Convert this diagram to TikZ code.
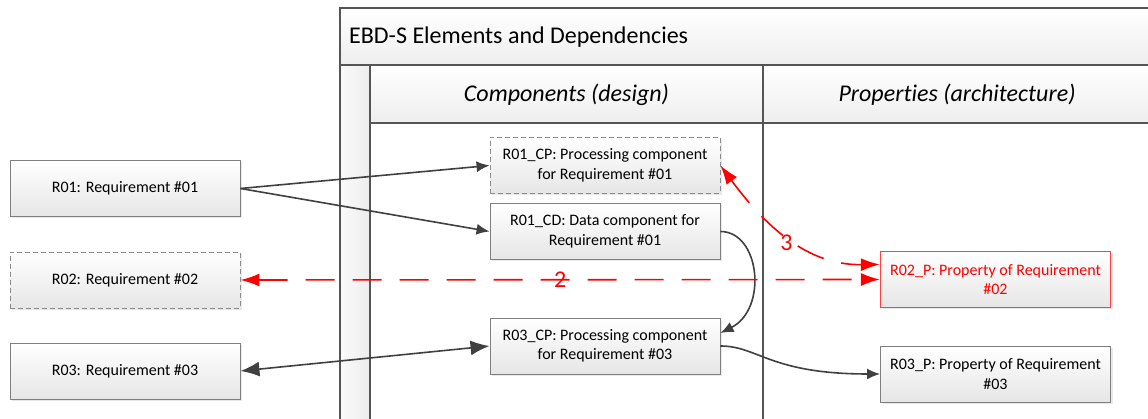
\documentclass[tikz,border=0pt]{standalone}
\usepackage{fontspec}
\setmainfont[Ligatures=NoCommon]{Carlito}
\usetikzlibrary{arrows.meta,shadows}

\definecolor{linegray}{HTML}{404040}
\definecolor{boxline}{HTML}{7F7F7F}
\definecolor{dashline}{HTML}{8C8C8C}
\definecolor{poolline}{HTML}{555555}
\definecolor{fillbottom}{HTML}{E6E6E6}
\definecolor{headbottom}{HTML}{EEEEEE}
\definecolor{redline}{HTML}{FF0000}
\definecolor{redbox}{HTML}{FF4040}

\tikzset{
  elem/.style={draw=boxline, line width=0.9pt, top color=white, bottom color=fillbottom,
    minimum width=230pt, minimum height=56pt, inner sep=0pt, align=center,
    font=\fontsize{16}{19.5}\selectfont,
    drop shadow={shadow xshift=2pt, shadow yshift=-2pt, opacity=0.3, fill=black!30}},
  pending/.style={elem, draw=dashline, dash pattern=on 5pt off 3pt},
  flagged/.style={elem, draw=redbox, line width=1.2pt, text=redline},
  flow/.style={draw=linegray, line width=1.6pt, -{Latex[length=13pt,width=11pt]}},
  bothflow/.style={draw=linegray, line width=1.6pt, {Latex[length=19pt,width=15pt]}-{Latex[length=19pt,width=15pt]}},
  conflict/.style={draw=redline, line width=1.6pt, dash pattern=on 29pt off 18pt,
    {Latex[length=19pt,width=13pt]}-{Latex[length=19pt,width=13pt]}},
  conflictlabel/.style={text=redline, font=\fontsize{24}{28}\selectfont, inner sep=1pt},
  poolrule/.style={draw=poolline, line width=1.5pt},
  heading/.style={font=\fontsize{24}{28}\selectfont, inner sep=0pt},
}

\begin{document}
\begin{tikzpicture}[x=1pt,y=1pt]
\useasboundingbox (0,0) rectangle (1148,419);

% swimlane pool with two lanes
\begin{scope}
  \clip (0,0) rectangle (1148,419);
  \fill[top color=white, bottom color=headbottom] (340,411) rectangle (1160,354);
  \fill[top color=white, bottom color=headbottom] (370,354) rectangle (1160,296);
  \fill[left color=white!98!black, right color=white!93!black] (340,354) rectangle (370,-10);
  \draw[poolrule] (1160,411) -- (340,411) -- (340,-10);
  \draw[poolrule] (340,354) -- (1160,354);
  \draw[poolrule] (370,354) -- (370,-10);
  \draw[poolrule] (370,296) -- (1160,296);
  \draw[draw=poolline, line width=1.2pt] (763,354) -- (763,-10);
  \draw[poolrule] (1151,411) -- (1151,-10);
\end{scope}

\node[heading, anchor=west] (pooltitle) at (349,382) {EBD-S Elements and Dependencies};
\node[heading, font=\fontsize{24}{28}\selectfont\itshape] (lanedesign) at (566.5,324) {Components (design)};
\node[heading, font=\fontsize{24}{28}\selectfont\itshape] (lanearch) at (957,324) {Properties (architecture)};

% requirements
\node[elem]    (r01) at (125,230.5) {R01: Requirement \#01};
\node[pending] (r02) at (125,139)   {R02: Requirement \#02};
\node[elem]    (r03) at (125,48)    {R03: Requirement \#03};

% components
\node[pending] (r01cp) at (605,253.5) {R01\_CP: Processing component\\for Requirement \#01};
\node[elem]    (r01cd) at (605,187.5) {R01\_CD: Data component for\\Requirement \#01};
\node[elem]    (r03cp) at (605,73)    {R03\_CP: Processing component\\for Requirement \#03};

% properties
\node[flagged] (r02p) at (995.5,139.5) {R02\_P: Property of Requirement\\\#02};
\node[elem]    (r03p) at (995.5,45)    {R03\_P: Property of Requirement\\\#03};

% dependencies
\draw[flow] (r01.east) -- (r01cp.west);
\draw[flow] (r01.east) -- (r01cd.west);
\draw[bothflow] (r03.east) -- (r03cp.west);
\draw[flow] (r01cd.east) .. controls (760,187.5) and (768,110) .. ([yshift=13pt]r03cp.east);
\draw[flow] (r03cp.east) .. controls (758,73) and (770,45) .. (r03p.west);

% conflicts
\draw[conflict] (r02.east) -- node[conflictlabel, pos=0.5] (c2) {2} (r02p.west);
\draw[conflict] (r01cp.east) .. controls (782,170) and (825,154) ..
  node[conflictlabel, pos=0.42, xshift=-4pt, yshift=-4pt] (c3) {3} ([yshift=15pt]r02p.west);
\end{tikzpicture}
\end{document}
